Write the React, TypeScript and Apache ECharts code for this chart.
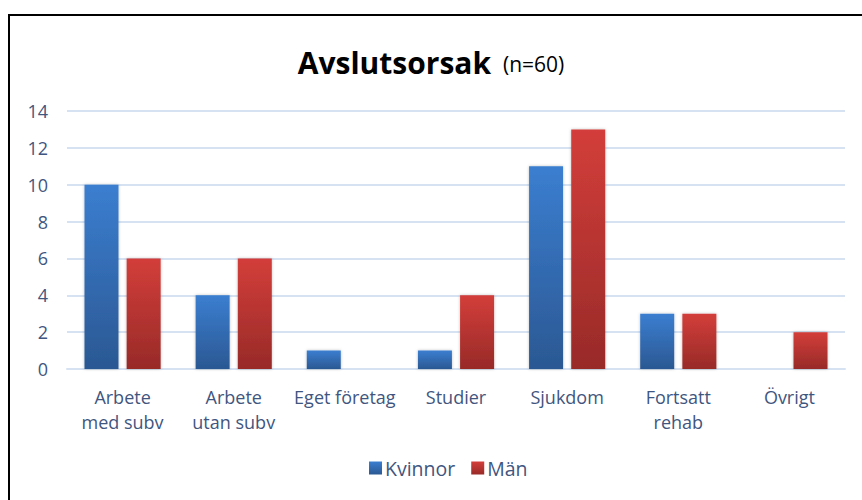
import React, { useEffect, useRef } from "react";
import * as echarts from "echarts";

const categories = ["Arbete\nmed subv", "Arbete\nutan subv", "Eget företag", "Studier", "Sjukdom", "Fortsatt\nrehab", "Övrigt"];
const kvinnor = [10, 4, 1, 1, 11, 3, 0];
const man = [6, 6, 0, 4, 13, 3, 2];
const yTicks = { min: 0, max: 14, interval: 2 };

const FONT = "'Open Sans', 'Noto Sans', sans-serif";
const TEXT = "#3f5680";

export default function App() {
  const ref = useRef<HTMLDivElement>(null);
  useEffect(() => {
    if (!ref.current) return;
    const chart = echarts.init(ref.current, null, { renderer: "svg" });
    const grad = (top: string, bottom: string) =>
      new echarts.graphic.LinearGradient(0, 0, 0, 1, [
        { offset: 0, color: top },
        { offset: 1, color: bottom },
      ]);
    chart.setOption({
      animation: false,
      backgroundColor: "#ffffff",
      title: {
        text: "{a|Avslutsorsak}{b|(n=60)}",
        left: "center",
        top: 42,
        textStyle: {
          fontWeight: "normal",
          rich: {
            a: { fontFamily: FONT, fontSize: 30, fontWeight: "bold", color: "#000" },
            b: { fontFamily: FONT, fontSize: 21, fontWeight: "normal", color: "#000", padding: [4, 0, 0, 12] },
          },
        },
      },
      legend: {
        bottom: 17,
        left: 364,
        itemWidth: 13,
        itemHeight: 13,
        itemGap: 16,
        icon: "rect",
        textStyle: { fontFamily: FONT, fontSize: 19.5, color: TEXT, padding: [0, 0, 0, -2] },
        data: ["Kvinnor", "Män"],
      },
      grid: { left: 67, right: 17, top: 111, bottom: 131 },
      xAxis: {
        type: "category",
        data: categories,
        axisLine: { lineStyle: { color: "#d6e2f1", width: 2 } },
        axisTick: { show: false },
        axisLabel: { fontFamily: FONT, fontSize: 18, color: TEXT, lineHeight: 25, margin: 15, interval: 0 },
      },
      yAxis: {
        type: "value",
        min: yTicks.min,
        max: yTicks.max,
        interval: yTicks.interval,
        axisLine: { show: false },
        axisTick: { show: false },
        splitLine: { lineStyle: { color: "#d6e2f1", width: 2 } },
        axisLabel: { fontFamily: FONT, fontSize: 18, color: TEXT, margin: 19 },
      },
      series: [
        {
          name: "Kvinnor",
          type: "bar",
          data: kvinnor,
          barWidth: 34,
          barGap: "24%",
          itemStyle: { color: grad("#3b7ed0", "#2b5893"), shadowColor: "rgba(0,0,0,0.25)", shadowBlur: 3 },
        },
        {
          name: "Män",
          type: "bar",
          data: man,
          barWidth: 34,
          itemStyle: { color: grad("#d33e3a", "#982a28"), shadowColor: "rgba(0,0,0,0.25)", shadowBlur: 3 },
        },
      ],
      graphic: [
        { type: "line", shape: { x1: 8, y1: 15, x2: 862, y2: 15 }, style: { stroke: "#000", lineWidth: 2 } },
        { type: "line", shape: { x1: 9, y1: 14, x2: 9, y2: 500 }, style: { stroke: "#000", lineWidth: 2 } },
      ],
    });
    return () => chart.dispose();
  }, []);
  return <div ref={ref} style={{ width: 862, height: 500, position: "absolute", left: 0, top: 0 }} />;
}
